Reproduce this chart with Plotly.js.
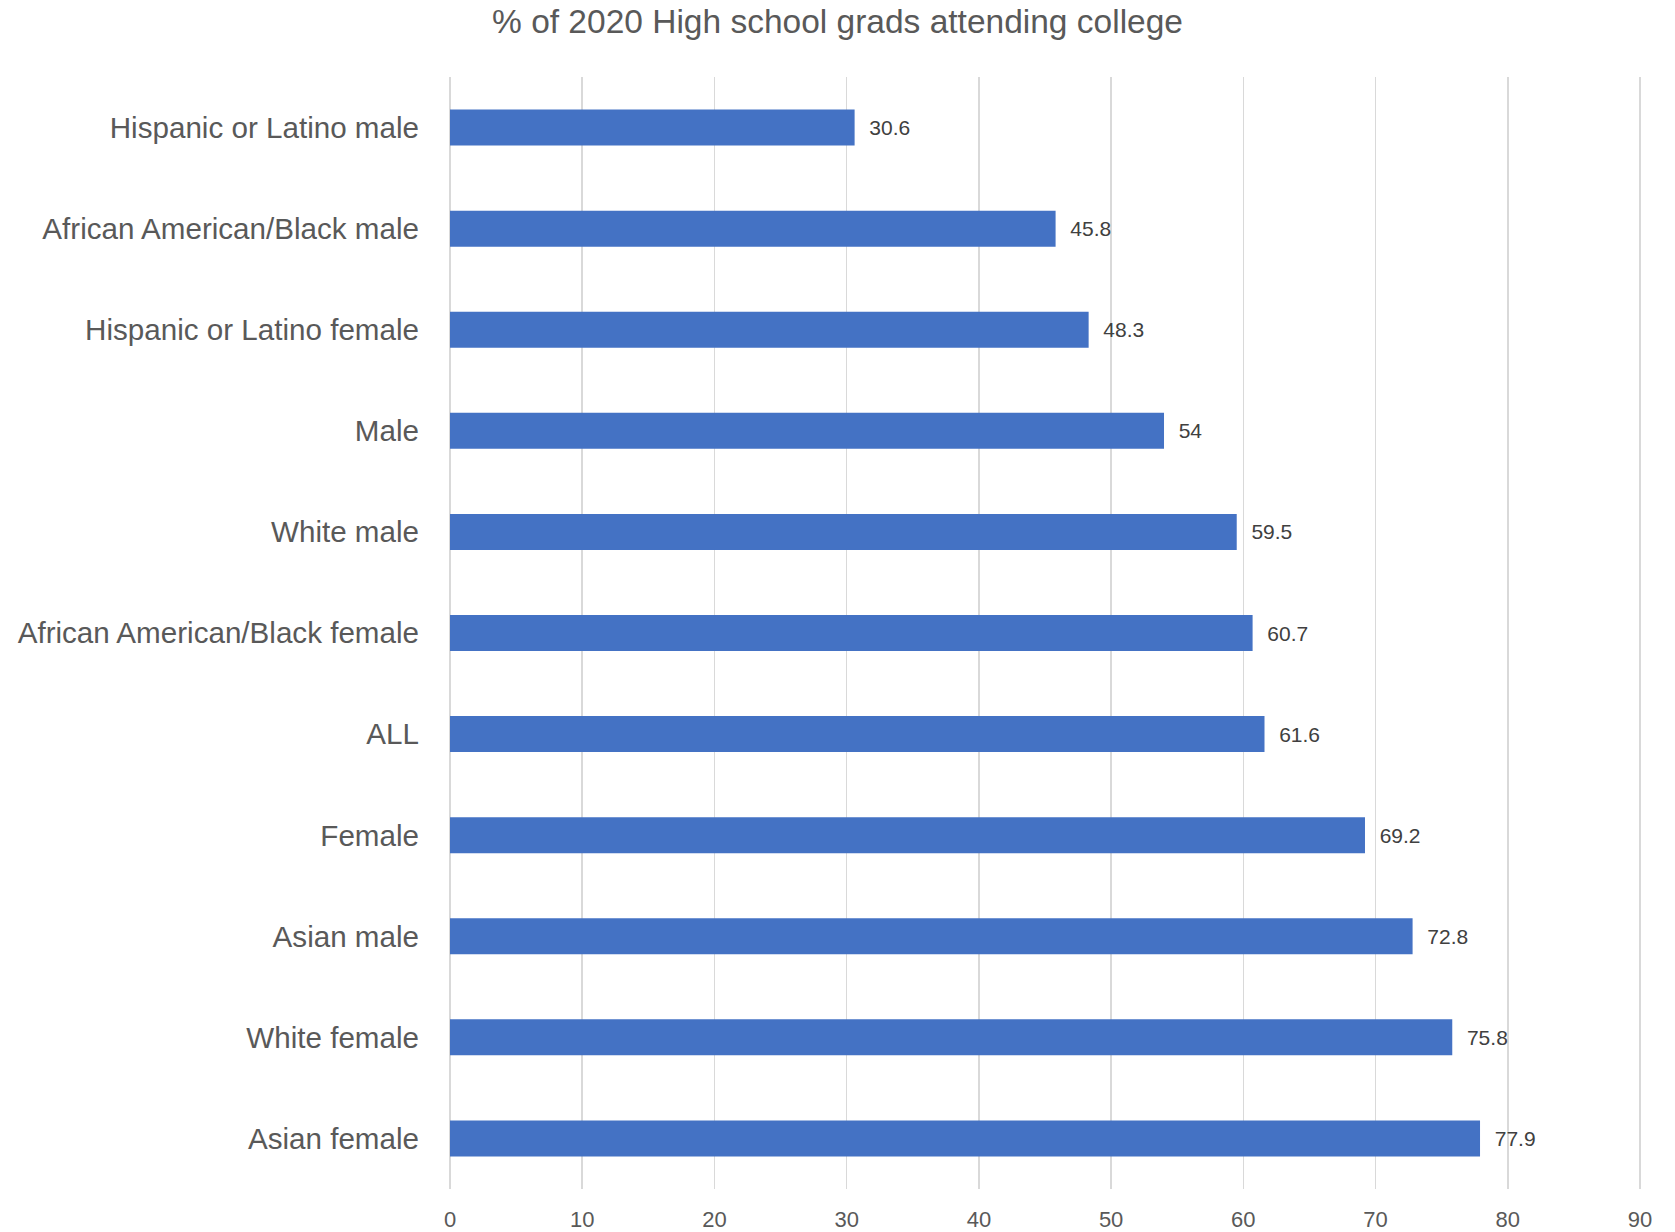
<!DOCTYPE html>
<html>
<head>
<meta charset="utf-8">
<script src="https://cdn.plot.ly/plotly-3.0.1.min.js"></script>
<style>html,body{margin:0;padding:0;background:#fff;}#chart{width:1675px;height:1232px;}</style>
</head>
<body>
<div id="chart"></div>
<script>
const categories = [
  "Hispanic or Latino male",
  "African American/Black male",
  "Hispanic or Latino female",
  "Male",
  "White male",
  "African American/Black female",
  "ALL",
  "Female",
  "Asian male",
  "White female",
  "Asian female"
];
const values = [30.6, 45.8, 48.3, 54, 59.5, 60.7, 61.6, 69.2, 72.8, 75.8, 77.9];
const xTicks = [0, 10, 20, 30, 40, 50, 60, 70, 80, 90];
const chartTitle = "% of 2020 High school grads attending college";

const FONT = "Liberation Sans, Arial, sans-serif";

const trace = {
  type: "bar",
  orientation: "h",
  y: categories,
  x: values,
  marker: {color: "#4472C4"},
  text: values.map(v => String(v)),
  texttemplate: "  %{text}",
  textposition: "outside",
  cliponaxis: false,
  textfont: {family: FONT, size: 21, color: "#404040"},
  hoverinfo: "none"
};

const layout = {
  width: 1675,
  height: 1232,
  paper_bgcolor: "#ffffff",
  plot_bgcolor: "#ffffff",
  margin: {l: 450, r: 33, t: 77, b: 43},
  bargap: 0.644,
  showlegend: false,
  title: {
    text: chartTitle,
    font: {family: FONT, size: 33.5, color: "#595959"},
    x: 0.5, xanchor: "center",
    y: 1 - 21/1232, yanchor: "middle"
  },
  xaxis: {
    range: [0, 90.15],
    tickvals: xTicks,
    ticktext: xTicks.map(String),
    showgrid: true,
    gridcolor: "#D9D9D9",
    gridwidth: 1.5,
    zeroline: true,
    zerolinecolor: "#D9D9D9",
    zerolinewidth: 1.5,
    showline: false,
    ticks: "",
    ticklabelstandoff: 15,
    tickfont: {family: FONT, size: 22, color: "#595959"}
  },
  yaxis: {
    type: "category",
    autorange: "reversed",
    showgrid: false,
    zeroline: false,
    showline: false,
    ticks: "",
    ticklabelstandoff: 30,
    tickfont: {family: FONT, size: 29.6, color: "#595959"}
  }
};

Plotly.newPlot("chart", [trace], layout, {staticPlot: true, displayModeBar: false});
</script>
</body>
</html>
